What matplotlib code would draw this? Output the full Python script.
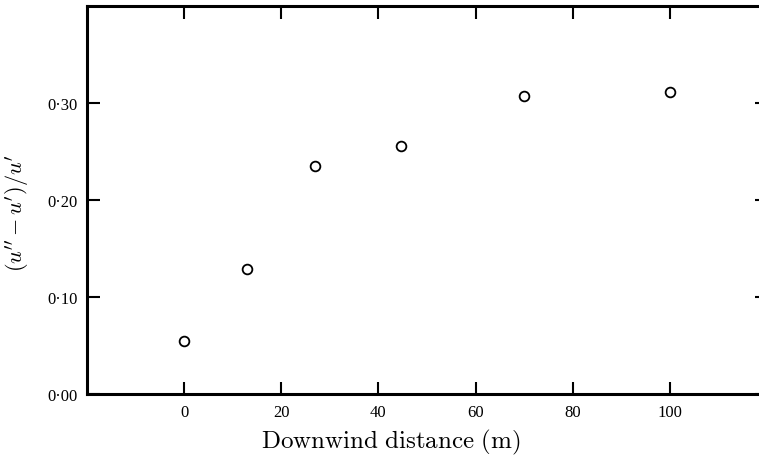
import numpy as np
import matplotlib
matplotlib.use("Agg")
import matplotlib.pyplot as plt

# data
distance = [0, 13, 27, 44.6, 70, 100]
ratio = [0.055, 0.129, 0.235, 0.256, 0.307, 0.311]

xticks = [0, 20, 40, 60, 80, 100]
yticks = [0.0, 0.1, 0.2, 0.3]
ytick_labels = ['0·00', '0·10', '0·20', '0·30']

plt.rcParams['mathtext.fontset'] = 'cm'
plt.rcParams['font.family'] = ['Liberation Serif', 'DejaVu Serif']

fig = plt.figure(figsize=(7.59, 4.56), dpi=100)
ax = fig.add_axes([0.1146, 0.1338, 0.896, 0.8509])

ax.plot(distance, ratio, linestyle='none', marker='o', markersize=7,
        markerfacecolor='white', markeredgecolor='black', markeredgewidth=1.3)

ax.set_xlim(-20, 120)
ax.set_ylim(0, 0.40)
ax.set_xticks(xticks)
ax.set_xticklabels([str(t) for t in xticks])
ax.set_yticks(yticks)
ax.set_yticklabels(ytick_labels)

for s in ax.spines.values():
    s.set_linewidth(2.2)
ax.tick_params(direction='in', length=9, width=1.5, labelsize=12,
               top=True, right=True, pad=7)

ax.set_xlabel(r'$\mathrm{Downwind\ distance\ (m)}$', fontsize=18, va='center')
ax.xaxis.set_label_coords(0.447, -0.122)
ax.set_ylabel(r"$(u''-u')/u'$", fontsize=16, va='center')
ax.yaxis.set_label_coords(-0.103, 0.469)

fig.savefig('out.png', dpi=100)
